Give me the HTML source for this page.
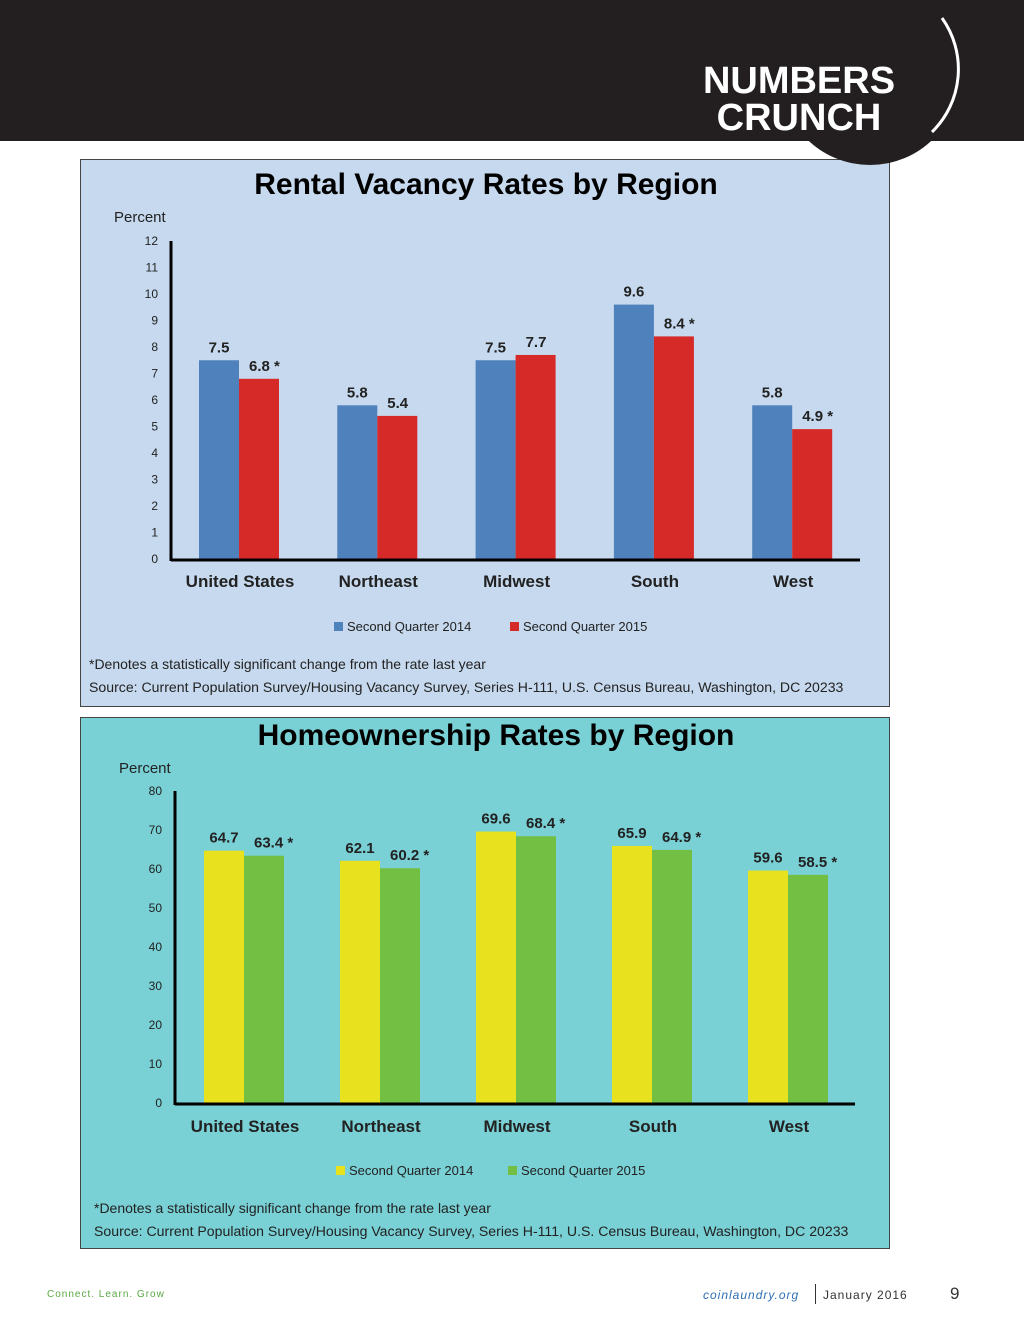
<!DOCTYPE html>
<html><head><meta charset="utf-8"><style>
body{margin:0;width:1024px;height:1330px;background:#fff;position:relative;overflow:hidden;font-family:"Liberation Sans",Arial,sans-serif}
.abs{position:absolute}
</style></head><body>
<div class="abs" style="left:0;top:0;width:1024px;height:141px;background:#231f20"></div>
<svg class="abs" style="left:0;top:0" width="1024" height="1330" id="charts">
<rect x="80.5" y="159.5" width="809" height="547" fill="#c6d9ee" stroke="#444"/>
<rect x="80.5" y="717.5" width="809" height="531" fill="#79d0d5" stroke="#444"/>
<g id="c1"></g><g id="c2"></g>
</svg>
<svg class="abs" style="left:0;top:0" width="1024" height="180">
<circle cx="870" cy="75" r="90" fill="#231f20"/>
<path d="M942 18 A88 88 0 0 1 932 132" stroke="#fff" stroke-width="3" fill="none"/>
<text x="799" y="93" text-anchor="middle" fill="#fff" font-size="38" font-weight="bold" font-family="Liberation Sans, sans-serif">NUMBERS</text>
<text x="799" y="130" text-anchor="middle" fill="#fff" font-size="38" font-weight="bold" font-family="Liberation Sans, sans-serif">CRUNCH</text>
</svg>
<div class="abs" style="left:47px;top:1289px;font-size:10px;color:#5aa845;letter-spacing:1px">Connect. Learn. Grow</div>
<div class="abs" style="left:703px;top:1288px;font-size:12px;color:#2f6fb3;font-style:italic;letter-spacing:1px">coinlaundry.org</div>
<div class="abs" style="left:815px;top:1284px;width:1px;height:20px;background:#333"></div>
<div class="abs" style="left:823px;top:1288px;font-size:12px;color:#333;letter-spacing:1px">January 2016</div>
<div class="abs" style="left:950px;top:1284px;font-size:17px;color:#333">9</div>
<script>
const categories=["United States","Northeast","Midwest","South","West"];
const rent2014=[7.5,5.8,7.5,9.6,5.8];
const rent2015=[6.8,5.4,7.7,8.4,4.9];
const rentSig=[true,false,false,true,true];
const rentTicks=[0,1,2,3,4,5,6,7,8,9,10,11,12];
const home2014=[64.7,62.1,69.6,65.9,59.6];
const home2015=[63.4,60.2,68.4,64.9,58.5];
const homeSig=[true,true,true,true,true];
const homeTicks=[0,10,20,30,40,50,60,70,80];
const NS="http://www.w3.org/2000/svg";
function mk(g,tag,at,txt){const e=document.createElementNS(NS,tag);for(const k in at)e.setAttribute(k,at[k]);if(txt!==undefined)e.textContent=txt;g.appendChild(e);return e;}
function draw(g,o){
 const y=v=>o.y0-(v-o.vmin)*(o.y0-o.ytop)/(o.vmax-o.vmin);
 const cx=i=>o.c0+i*o.step;
 let t=mk(g,"text",{x:o.titleX,y:o.titleY,"text-anchor":"middle","font-size":30,"font-weight":"bold",fill:"#000"},o.title);
 
 t=mk(g,"text",{x:o.pctX,y:o.pctY,"font-size":15,fill:"#222"},"Percent");
 
 o.ticks.forEach(v=>{const e=mk(g,"text",{x:o.ax-13,y:y(v)+4,"text-anchor":"end","font-size":12,fill:"#222"},String(v));
  });
 o.a.forEach((v,i)=>{
  const c=cx(i);
  let r=mk(g,"rect",{x:c-40,y:y(v),width:40,height:y(o.vmin)-y(v),fill:o.colA});
  
  const w=o.b[i];
  r=mk(g,"rect",{x:c,y:y(w),width:40,height:y(o.vmin)-y(w),fill:o.colB});
  
  let l=mk(g,"text",{x:c-20,y:y(v)-8,"text-anchor":"middle","font-size":15,"font-weight":"bold",fill:"#222"},String(v));
  
  l=mk(g,"text",{x:c+10,y:y(w)-8,"font-size":15,"font-weight":"bold",fill:"#222"},w+(o.sig[i]?" *":""));
  
  l=mk(g,"text",{x:c+1,y:o.catY,"text-anchor":"middle","font-size":17,"font-weight":"bold",fill:"#222"},categories[i]);
  
 });
 let ln=mk(g,"line",{x1:o.ax,y1:o.ytop,x2:o.ax,y2:o.y0+2,stroke:"#000","stroke-width":3});
 
 ln=mk(g,"line",{x1:o.ax,y1:o.y0+1,x2:o.axEnd,y2:o.y0+1,stroke:"#000","stroke-width":3});
 
 [[o.legA,o.colA,"Second Quarter 2014"],[o.legB,o.colB,"Second Quarter 2015"]].forEach(([lx,col,tx])=>{
  const s=mk(g,"rect",{x:lx,y:o.legY-9,width:9,height:9,fill:col});
  
  const e=mk(g,"text",{x:lx+13,y:o.legY,"font-size":13,fill:"#222"},tx);
  
 });
 let f=mk(g,"text",{x:o.noteX,y:o.noteY,"font-size":14,fill:"#222"},"*Denotes a statistically significant change from the rate last year");
 
 f=mk(g,"text",{x:o.noteX,y:o.noteY+23,"font-size":14.1,fill:"#222"},"Source: Current Population Survey/Housing Vacancy Survey, Series H-111, U.S. Census Bureau, Washington, DC 20233");
 
}
draw(document.getElementById("c1"),{title:"Rental Vacancy Rates by Region",titleX:486,titleY:194,pctX:114,pctY:222,
 ticks:rentTicks,vmin:0,vmax:12,y0:559,ytop:241,ax:171,axEnd:860,c0:239,step:138.3,a:rent2014,b:rent2015,sig:rentSig,
 colA:"#4f81bd",colB:"#d52a27",catY:587,legA:334,legB:510,legY:631,noteX:89,noteY:669});
draw(document.getElementById("c2"),{title:"Homeownership Rates by Region",titleX:496,titleY:745,pctX:119,pctY:773,
 ticks:homeTicks,vmin:0,vmax:80,y0:1103,ytop:791,ax:175,axEnd:855,c0:244,step:136,a:home2014,b:home2015,sig:homeSig,
 colA:"#e8e11e",colB:"#72bf44",catY:1132,legA:336,legB:508,legY:1175,noteX:94,noteY:1213});
</script>
</body></html>
